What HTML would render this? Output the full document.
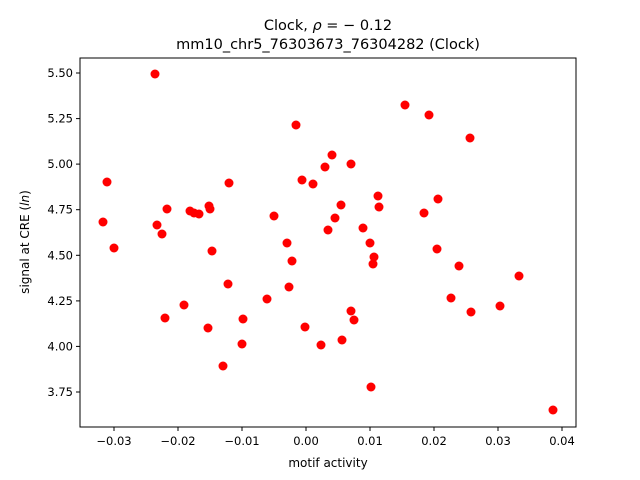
<!DOCTYPE html>
<html><head><meta charset="utf-8"><style>body{margin:0;background:#fff}svg{display:block}text{font-family:"DejaVu Sans","Liberation Sans",sans-serif;fill:#000}</style></head><body>
<svg width="640" height="480" xmlns="http://www.w3.org/2000/svg">
<rect width="640" height="480" fill="#fff"/>
<text x="328" y="30" font-size="14.5" text-anchor="middle">Clock, <tspan font-style="italic">ρ</tspan> = − 0.12</text>
<text x="328" y="49" font-size="14.5" text-anchor="middle">mm10_chr5_76303673_76304282 (Clock)</text>
<g fill="#ff0000">
<circle cx="155" cy="74" r="4.5"/><circle cx="405" cy="105" r="4.5"/><circle cx="429" cy="115" r="4.5"/><circle cx="296" cy="125" r="4.5"/><circle cx="470" cy="138" r="4.5"/><circle cx="332" cy="155" r="4.5"/><circle cx="351" cy="164" r="4.5"/><circle cx="107" cy="182" r="4.5"/><circle cx="325" cy="167" r="4.5"/><circle cx="302" cy="180" r="4.5"/><circle cx="313" cy="184" r="4.5"/><circle cx="229" cy="183" r="4.5"/><circle cx="341" cy="205" r="4.5"/><circle cx="378" cy="196" r="4.5"/><circle cx="167" cy="209" r="4.5"/><circle cx="209" cy="206" r="4.5"/><circle cx="190" cy="211" r="4.5"/><circle cx="194" cy="213" r="4.5"/><circle cx="199" cy="214" r="4.5"/><circle cx="210" cy="209" r="4.5"/><circle cx="379" cy="207" r="4.5"/><circle cx="424" cy="213" r="4.5"/><circle cx="438" cy="199" r="4.5"/><circle cx="335" cy="218" r="4.5"/><circle cx="328" cy="230" r="4.5"/><circle cx="274" cy="216" r="4.5"/><circle cx="103" cy="222" r="4.5"/><circle cx="157" cy="225" r="4.5"/><circle cx="162" cy="234" r="4.5"/><circle cx="114" cy="248" r="4.5"/><circle cx="287" cy="243" r="4.5"/><circle cx="363" cy="228" r="4.5"/><circle cx="370" cy="243" r="4.5"/><circle cx="212" cy="251" r="4.5"/><circle cx="292" cy="261" r="4.5"/><circle cx="437" cy="249" r="4.5"/><circle cx="374" cy="257" r="4.5"/><circle cx="373" cy="264" r="4.5"/><circle cx="459" cy="266" r="4.5"/><circle cx="228" cy="284" r="4.5"/><circle cx="289" cy="287" r="4.5"/><circle cx="519" cy="276" r="4.5"/><circle cx="451" cy="298" r="4.5"/><circle cx="184" cy="305" r="4.5"/><circle cx="165" cy="318" r="4.5"/><circle cx="267" cy="299" r="4.5"/><circle cx="500" cy="306" r="4.5"/><circle cx="471" cy="312" r="4.5"/><circle cx="351" cy="311" r="4.5"/><circle cx="354" cy="320" r="4.5"/><circle cx="243" cy="319" r="4.5"/><circle cx="208" cy="328" r="4.5"/><circle cx="305" cy="327" r="4.5"/><circle cx="342" cy="340" r="4.5"/><circle cx="321" cy="345" r="4.5"/><circle cx="242" cy="344" r="4.5"/><circle cx="223" cy="366" r="4.5"/><circle cx="371" cy="387" r="4.5"/><circle cx="553" cy="410" r="4.5"/>
</g>
<rect x="80" y="58" width="496" height="369" fill="none" stroke="#000" stroke-width="1"/>
<g stroke="#000" stroke-width="1">
<line x1="114" y1="427" x2="114" y2="431"/><line x1="178" y1="427" x2="178" y2="431"/><line x1="242" y1="427" x2="242" y2="431"/><line x1="306" y1="427" x2="306" y2="431"/><line x1="370" y1="427" x2="370" y2="431"/><line x1="434" y1="427" x2="434" y2="431"/><line x1="498" y1="427" x2="498" y2="431"/><line x1="562" y1="427" x2="562" y2="431"/>
<line x1="76" y1="73" x2="80" y2="73"/><line x1="76" y1="118.6" x2="80" y2="118.6"/><line x1="76" y1="164.1" x2="80" y2="164.1"/><line x1="76" y1="209.7" x2="80" y2="209.7"/><line x1="76" y1="255.3" x2="80" y2="255.3"/><line x1="76" y1="300.9" x2="80" y2="300.9"/><line x1="76" y1="346.4" x2="80" y2="346.4"/><line x1="76" y1="392" x2="80" y2="392"/>
</g>
<g font-size="11.5" text-anchor="middle">
<text x="114" y="445">−0.03</text><text x="178" y="445">−0.02</text><text x="242" y="445">−0.01</text><text x="306" y="445">0.00</text><text x="370" y="445">0.01</text><text x="434" y="445">0.02</text><text x="498" y="445">0.03</text><text x="562" y="445">0.04</text>
</g>
<g font-size="11.5" text-anchor="end">
<text x="73" y="77">5.50</text><text x="73" y="122.6">5.25</text><text x="73" y="168.1">5.00</text><text x="73" y="213.7">4.75</text><text x="73" y="259.3">4.50</text><text x="73" y="304.9">4.25</text><text x="73" y="350.4">4.00</text><text x="73" y="396">3.75</text>
</g>
<text x="328" y="467" font-size="12" text-anchor="middle">motif activity</text>
<text transform="translate(29,242) rotate(-90)" font-size="12" text-anchor="middle">signal at CRE (<tspan font-style="italic">ln</tspan>)</text>
</svg>
</body></html>
